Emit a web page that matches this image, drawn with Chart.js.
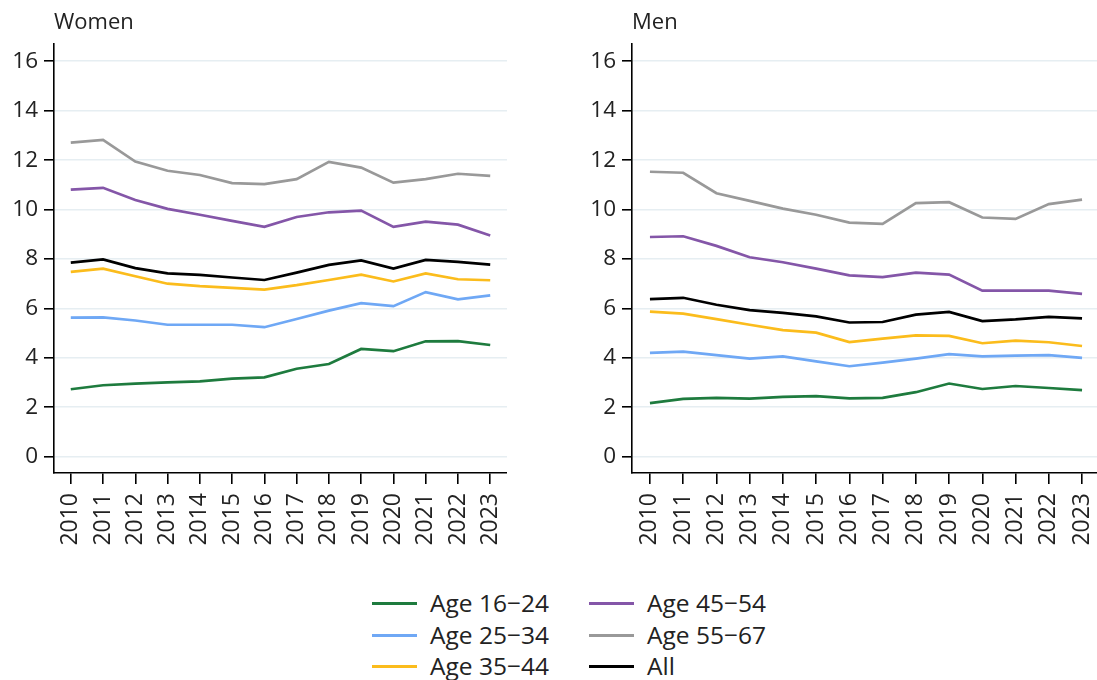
<!DOCTYPE html>
<html>
<head>
<meta charset="utf-8">
<script src="https://cdn.jsdelivr.net/npm/chart.js@4"></script>
<style>
  html, body { margin:0; padding:0; background:#fff; overflow:hidden; width:1097px; height:680px; }
  .panel { position:absolute; top:0; }
  #legend { position:absolute; left:0; top:0; font-family:"Open Sans", sans-serif; font-size:24.5px; color:#222; }
  .item { position:absolute; height:30px; }
  .item .ln { position:absolute; left:0; width:45px; height:3px; top:14px; }
  .item .tx { position:absolute; left:58px; top:0; line-height:30px; white-space:nowrap; }
</style>
</head>
<body>
<div class="panel" style="left:0;width:507px;height:560px;"><canvas id="women"></canvas></div>
<div class="panel" style="left:578px;width:519px;height:560px;"><canvas id="men"></canvas></div>
<div id="legend"></div>
<script>
const YEARS = [2010,2011,2012,2013,2014,2015,2016,2017,2018,2019,2020,2021,2022,2023];
const Y_TICKS = [0,2,4,6,8,10,12,14,16];
const SERIES_NAMES = ["Age 16\u221224","Age 25\u221234","Age 35\u221244","Age 45\u221254","Age 55\u221267","All"];
const SERIES_COLORS = ["#1e7b3e","#6fa8f5","#fbbc1c","#8456a8","#999999","#000000"];

// Women
const W_16_24 = [2.73,2.89,2.96,3.01,3.05,3.16,3.21,3.56,3.75,4.36,4.27,4.67,4.68,4.52];
const W_25_34 = [5.63,5.64,5.51,5.34,5.34,5.34,5.24,5.57,5.91,6.21,6.09,6.66,6.37,6.53];
const W_35_44 = [7.48,7.61,7.30,7.00,6.90,6.83,6.76,6.94,7.15,7.37,7.09,7.42,7.18,7.14];
const W_45_54 = [10.81,10.88,10.39,10.03,9.79,9.54,9.30,9.70,9.89,9.96,9.30,9.51,9.39,8.95];
const W_55_67 = [12.71,12.82,11.94,11.57,11.40,11.07,11.03,11.23,11.93,11.70,11.09,11.23,11.45,11.36];
const W_ALL   = [7.85,7.98,7.63,7.42,7.36,7.25,7.15,7.45,7.76,7.94,7.61,7.96,7.88,7.77];

// Men
const M_16_24 = [2.17,2.34,2.38,2.35,2.42,2.45,2.36,2.38,2.61,2.96,2.74,2.86,2.78,2.69];
const M_25_34 = [4.20,4.25,4.11,3.97,4.06,3.86,3.66,3.81,3.97,4.15,4.06,4.09,4.11,4.00];
const M_35_44 = [5.87,5.79,5.57,5.34,5.12,5.02,4.64,4.78,4.91,4.89,4.59,4.70,4.63,4.48];
const M_45_54 = [8.89,8.92,8.53,8.07,7.87,7.61,7.34,7.27,7.45,7.37,6.72,6.72,6.72,6.59];
const M_55_67 = [11.53,11.49,10.66,10.35,10.04,9.79,9.47,9.42,10.26,10.30,9.68,9.62,10.22,10.40];
const M_ALL   = [6.38,6.43,6.15,5.93,5.82,5.68,5.43,5.45,5.75,5.86,5.49,5.56,5.66,5.60];

const WOMEN = [W_16_24,W_25_34,W_35_44,W_45_54,W_55_67,W_ALL];
const MEN = [M_16_24,M_25_34,M_35_44,M_45_54,M_55_67,M_ALL];

const FONT = "'Open Sans', sans-serif";
const GRID = "#e6eef2";

function makeChart(id, title, data, xmin, xmax) {
  const datasets = data.map((vals, i) => ({
    label: SERIES_NAMES[i],
    data: vals.map((v, j) => ({x: YEARS[j], y: v})),
    borderColor: SERIES_COLORS[i],
    backgroundColor: SERIES_COLORS[i],
    borderWidth: 2.7,
    pointRadius: 0,
    tension: 0,
    fill: false
  }));
  return new Chart(document.getElementById(id), {
    type: 'line',
    data: { datasets },
    options: {
      responsive: true,
      maintainAspectRatio: false,
      animation: false,
      layout: { padding: { left: 0, right: 0, top: 0, bottom: 0 } },
      plugins: {
        legend: { display: false },
        tooltip: { enabled: false },
        title: {
          display: true, text: title, align: 'start', fullSize: false,
          color: '#222', font: { family: FONT, size: 22, weight: 'normal', lineHeight: 1.2 },
          padding: { top: 10, bottom: 7.6 }
        }
      },
      scales: {
        x: {
          type: 'linear', min: xmin, max: xmax,
          afterBuildTicks: s => { s.ticks = YEARS.map(v => ({value: v})); },
          afterFit: s => { s.height = 87; s.paddingLeft = 0; s.paddingRight = 0; },
          border: { display: true, color: '#000', width: 1.6 },
          grid: { drawOnChartArea: false, drawTicks: true, tickLength: 11, tickColor: '#000', lineWidth: 1.6 },
          ticks: {
            autoSkip: false, maxRotation: 90, minRotation: 90, padding: 9,
            color: '#222', font: { family: FONT, size: 23 },
            callback: v => String(v)
          }
        },
        y: {
          type: 'linear', min: -0.66, max: 16.7,
          afterBuildTicks: s => { s.ticks = Y_TICKS.map(v => ({value: v})); },
          afterFit: s => { s.width = 54; s.paddingTop = 0; s.paddingBottom = 0; },
          border: { display: true, color: '#000', width: 1.6 },
          grid: { color: GRID, lineWidth: 1.6, drawTicks: true, tickLength: 10, tickColor: '#000' },
          ticks: { padding: 6, color: '#222', font: { family: FONT, size: 22.5 }, callback: v => String(v) }
        }
      }
    }
  });
}

makeChart('women', 'Women', WOMEN, 2009.48, 2023.52);
makeChart('men', 'Men', MEN, 2009.46, 2023.45);

// Legend (two columns, column-major)
const legend = document.getElementById('legend');
const COL_X = [372, 589];
const ROW_Y = [588, 619.5, 651];
SERIES_NAMES.forEach((name, i) => {
  const col = Math.floor(i / 3), row = i % 3;
  const d = document.createElement('div');
  d.className = 'item';
  d.style.left = COL_X[col] + 'px';
  d.style.top = ROW_Y[row] + 'px';
  d.innerHTML = '<div class="ln" style="background:' + SERIES_COLORS[i] + '"></div><div class="tx">' + name + '</div>';
  legend.appendChild(d);
});
</script>
</body>
</html>
